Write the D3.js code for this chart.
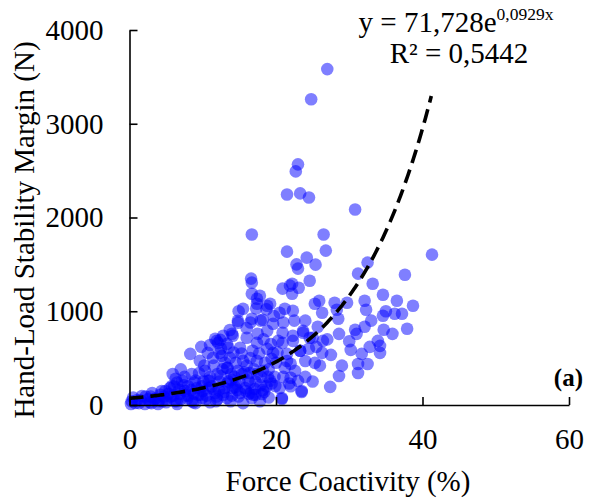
<!DOCTYPE html>
<html>
<head>
<meta charset="utf-8">
<script src="https://cdn.jsdelivr.net/npm/d3@7"></script>
<style>
  body { margin: 0; background: #fff; }
  svg text { font-family: "Liberation Serif", "Times New Roman", serif; fill: #000; }
</style>
</head>
<body>
<svg id="chart" width="589" height="502"></svg>
<script>
// Force coactivity (%) of each trial
const coactivity = [
  27.0, 24.8, 23.0, 22.7, 21.5, 23.3, 24.5, 30.8, 26.5, 16.7, 26.8, 21.5, 41.3, 22.8, 24.2, 25.4,
  23.0, 32.5, 31.2, 37.6, 33.2, 24.6, 16.6, 20.9, 23.1, 22.2, 21.9, 34.6, 36.5, 38.7, 25.9, 28.0,
  29.7, 32.1, 32.3, 34.6, 36.2, 37.2, 21.2, 22.3, 25.3, 26.3, 28.3, 19.2, 28.5, 32.1, 30.8, 31.0,
  34.7, 35.9, 37.9, 28.6, 25.7, 23.7, 24.6, 26.4, 22.3, 20.9, 33.9, 34.2, 30.2, 31.7, 34.2, 27.5,
  26.3, 23.3, 21.5, 25.3, 31.2, 32.5, 31.2, 28.6, 22.6, 23.0, 27.4, 23.5, 20.5, 20.8, 16.7, 17.8,
  22.2, 15.5, 17.4, 20.5, 14.8, 16.7, 18.2, 19.6, 18.8, 20.9, 14.1, 16.0, 17.4, 20.3, 22.3, 23.7,
  25.0, 13.3, 15.1, 16.8, 18.8, 19.6, 21.5, 23.3, 12.3, 13.7, 15.5, 17.4, 19.4, 21.2, 13.3, 14.8,
  16.4, 18.2, 19.9, 18.1, 20.8, 15.1, 16.7, 13.3, 14.1, 17.1, 23.5, 8.3, 5.9, 11.7, 12.8, 13.5,
  10.7, 9.6, 11.4, 12.6, 10.3, 8.5, 7.2, 5.8, 7.6, 4.4, 3.1, 1.7, 0.8, 2.1, 3.9, 6.2,
  8.5, 9.9, 11.7, 13.0, 10.7, 12.0, 13.4, 9.2, 12.1, 12.4, 14.0, 14.8, 16.7, 17.4, 18.8,
  0.3, 0.5, 1.0, 1.3, 2.5, 2.8, 3.5, 4.0, 4.7, 5.0, 5.3, 5.5, 6.0, 6.5, 6.8, 7.0,
  7.5, 8.0, 8.8, 9.0, 9.5, 10.0, 10.2, 10.5, 11.0, 11.2, 11.5, 12.0, 12.3, 12.7, 13.0, 13.5,
  14.0, 14.3, 14.5, 15.0, 15.3, 15.8, 16.0, 16.2, 16.5, 17.0, 17.2, 17.7, 18.0, 18.5, 18.7, 19.0,
  19.3, 19.8, 20.0, 20.2, 21.0, 21.8, 22.0, 5.0, 3.0, 6.5, 9.0, 11.0, 13.8, 15.5, 17.8, 19.0,
  8.0, 7.0, 6.3, 9.8, 11.0, 12.5, 14.2, 16.0, 17.5, 18.3, 19.7, 21.0, 22.5, 24.0, 24.5, 25.5,
  26.0, 24.0, 25.0, 22.0, 24.0, 27.0, 29.0, 30.0, 32.8, 33.0, 35.0,
  11.9, 13.7, 14.9, 17.3, 18.7, 16.5, 17.9, 22.0, 2.2, 3.4, 4.2, 4.9, 5.6, 6.1, 6.9, 7.4,
  7.9, 8.4, 8.9, 9.4, 9.9, 10.4, 10.9, 11.4, 11.9, 12.4, 12.9, 13.4, 13.9, 14.4, 14.9, 15.4,
  15.9, 16.4, 16.9, 17.4, 17.9, 18.4, 18.9, 19.4, 6.4, 7.7, 8.7, 9.7, 10.8, 11.8, 12.8, 13.9,
  14.7, 15.7, 16.3, 17.2, 18.2, 19.2, 10.1, 12.2, 14.6, 16.6, 1.5, 2.9, 4.5, 0.2
];

// Hand-load stability margin (N) of each trial
const margin = [
  3583, 3262, 2567, 2492, 2246, 2257, 2214, 2086, 1818, 1818, 1647, 1636, 1604, 1500, 1572, 1497,
  1455, 1519, 1401, 1390, 1294, 1326, 1348, 1241, 1251, 1294, 1273, 1176, 1112, 1059, 1112, 1091,
  1091, 1112, 1016, 952, 973, 973, 1027, 1005, 1080, 984, 1016, 1080, 920, 834, 802, 759,
  802, 759, 813, 759, 834, 791, 717, 684, 738, 663, 684, 631, 588, 545, 556, 535,
  556, 578, 470, 449, 438, 438, 342, 310, 364, 257, 193, 139, 182, 64, 1187, 1166,
  1187, 1027, 1080, 984, 898, 920, 909, 866, 791, 770, 738, 717, 663, 684, 684, 770,
  717, 652, 610, 578, 599, 556, 545, 578, 556, 503, 471, 471, 492, 396, 396, 364,
  342, 364, 203, 118, 75, 128, 75, 75, 182, 171, 150, 545, 331, 706, 738, 610,
  556, 471, 503, 524, 364, 331, 257, 203, 150, 150, 128, 96, 21, 10, 11, 43,
  43, 75, 128, 182, 257, 331, 396, 182, 663, 695, 760, 877, 1305, 1134, 1059,
  40, 80, 50, 20, 60, 30, 70, 40, 90, 30, 120, 180, 100, 240, 160, 60,
  300, 200, 120, 260, 340, 150, 420, 100, 300, 200, 420, 60, 250, 380, 450, 250,
  100, 300, 450, 250, 550, 180, 420, 260, 500, 380, 250, 550, 300, 450, 200, 380,
  650, 300, 450, 560, 300, 230, 440, 60, 20, 10, 20, 30, 40, 20, 40, 80,
  100, 380, 280, 620, 640, 600, 560, 820, 760, 700, 950, 880, 900, 900, 600, 620,
  420, 300, 250, 200, 470, 700, 420, 680, 620, 900, 1000,
  684, 800, 1000, 1030, 1020, 880, 900, 290, 90, 60, 110, 150, 90, 200, 120, 210,
  70, 160, 240, 110, 200, 60, 260, 170, 90, 310, 140, 230, 330, 190, 90, 330,
  150, 240, 110, 330, 210, 140, 300, 230, 40, 100, 30, 110, 180, 40, 110, 270,
  160, 350, 120, 110, 160, 260, 250, 160, 220, 130, 50, 90, 40, 10
];

const xTicks = [0, 20, 40, 60];
const yTicks = [0, 1000, 2000, 3000, 4000];

// exponential trend line y = a * e^(b x)
const trendA = 71.728;
const trendB = 0.0929;
const trendEnd = 41.3;

const svg = d3.select("#chart");

const x = d3.scaleLinear().domain([0, 60]).range([129.5, 569]);
const y = d3.scaleLinear().domain([0, 4000]).range([405, 30]);

// points
svg.append("g")
  .selectAll("circle")
  .data(d3.zip(coactivity, margin))
  .enter()
  .append("circle")
  .attr("cx", (d) => x(d[0]))
  .attr("cy", (d) => y(d[1]))
  .attr("r", 6.3)
  .attr("fill", "#0000ff")
  .attr("fill-opacity", 0.5);

// axes
const xAxis = svg.append("g")
  .attr("transform", `translate(0,${y(0)})`)
  .call(d3.axisBottom(x).tickValues(xTicks).tickFormat(d3.format("d"))
    .tickSizeInner(-8).tickSizeOuter(0).tickPadding(23));

const yAxis = svg.append("g")
  .attr("transform", `translate(${x(0)},0)`)
  .call(d3.axisLeft(y).tickValues(yTicks).tickFormat(d3.format("d"))
    .tickSizeInner(-8).tickSizeOuter(0).tickPadding(26));

[xAxis, yAxis].forEach((g) => {
  g.select(".domain").attr("stroke", "#000").attr("stroke-width", 1.6);
  g.selectAll(".tick line").attr("stroke", "#000").attr("stroke-width", 1.6);
  g.selectAll(".tick text")
    .attr("font-family", "Liberation Serif")
    .attr("font-size", 29)
    .attr("fill", "#000");
});

// trend line
const trend = d3.range(0, trendEnd + 0.01, 0.2).map((v) => [v, trendA * Math.exp(trendB * v)]);
svg.append("path")
  .datum(trend)
  .attr("fill", "none")
  .attr("stroke", "#000")
  .attr("stroke-width", 3.6)
  .attr("stroke-dasharray", "14,7")
  .attr("d", d3.line().x((d) => x(d[0])).y((d) => y(d[1])));

// axis titles
svg.append("text")
  .attr("x", 348)
  .attr("y", 491)
  .attr("text-anchor", "middle")
  .attr("font-size", 29)
  .text("Force Coactivity (%)");

svg.append("text")
  .attr("transform", "translate(34,230) rotate(-90)")
  .attr("text-anchor", "middle")
  .attr("font-size", 29)
  .text("Hand-Load Stability Margin (N)");

// equation
const eq = svg.append("text")
  .attr("x", 456)
  .attr("y", 32)
  .attr("text-anchor", "middle")
  .attr("font-size", 29);
eq.append("tspan").text("y = 71,728e");
eq.append("tspan").attr("font-size", 17.5).attr("dy", -12).text("0,0929x");

svg.append("text")
  .attr("x", 459)
  .attr("y", 63)
  .attr("text-anchor", "middle")
  .attr("font-size", 29)
  .text("R² = 0,5442");

svg.append("text")
  .attr("x", 583)
  .attr("y", 386)
  .attr("text-anchor", "end")
  .attr("font-size", 25)
  .attr("font-weight", "bold")
  .text("(a)");
</script>
</body>
</html>
